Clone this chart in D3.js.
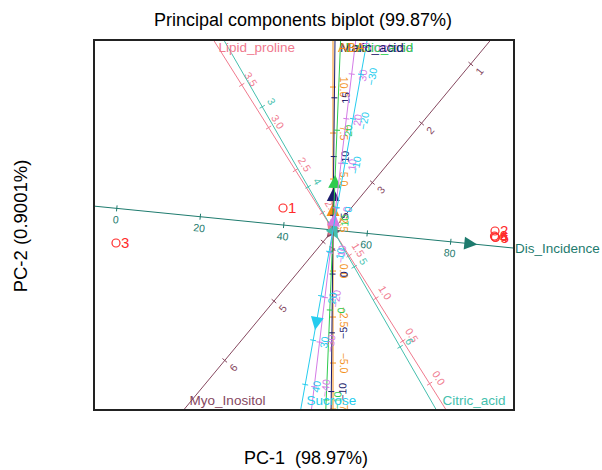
<!DOCTYPE html>
<html>
<head>
<meta charset="utf-8">
<script src="https://cdn.jsdelivr.net/npm/d3@7"></script>
<style>
  body { margin: 0; background: #fff; }
  svg { font-family: "Liberation Sans", Arial, sans-serif; }
</style>
</head>
<body>
<svg id="chart" width="602" height="470"></svg>
<script>
const width = 602;
const height = 470;
const frame = { left: 94, right: 514, top: 40, bottom: 410 };

// samples (PC scores)
const sampleIds = ["1", "2", "3", "4", "5", "6"];
const pc1 = [-1.0, 3.24, -4.34, 3.24, 3.25, 3.23];
const pc2 = [0.44, -0.02, -0.26, -0.14, -0.15, -0.12];

// calibrated variable axes
const varNames = ["Dis_Incidence", "Myo_Inositol", "Lipid_proline", "Citric_acid",
  "ABA", "Malic_acid", "Lactic_acid", "Fructose", "Sucrose"];
const varDirX = [0.995, -0.639, -0.532, 0.498, 0.0, 0.0105, 0.040, 0.119, -0.177];
const varDirY = [-0.0995, -0.770, 0.846, -0.867, 1.0, 1.0, 0.999, 0.993, -0.984];
const varCentre = [51.8, 3.8, 1.8, 4.54, 2.23, 3.75, 8.9, -4.9, 5.1];
const varUnit = [0.0839, 1.54, 2.018, 1.846, 0.368, 0.235, 0.18, 0.09, 0.09];
const varArrow = [2.9, 0.2, 0.22, 0.2, 0.54, 0.84, 1.1, 0.34, 2.03];
const varTicks = [
  [0, 20, 40, 60, 80],
  [1, 2, 3, 4, 5, 6],
  [0, 0.5, 1, 1.5, 2, 2.5, 3, 3.5],
  [3, 4, 5, 6],
  [-7.5, -5, -2.5, 0, 2.5, 5, 7.5, 10],
  [-10, -5, 0, 5, 10, 15],
  [-10, 0, 10, 20],
  [-40, -30, -20, -10, 0, 10, 20, 30],
  [-30, -20, -10, 0, 10, 20, 30, 40]
];

// styles
const varColor = ["#1e7b6e", "#86485f", "#f07a8e", "#45bfae", "#f39019",
  "#1b1b6b", "#2dcb4e", "#d47be6", "#25ccee"];
const labelSide = [1, -1, 1, -1, 1, 1, 1, 1, -1];
const tickFmt = [d3.format("d"), d3.format("d"), d3.format(".1f"), d3.format("d"),
  d3.format(".1f"), d3.format("d"), d3.format("d"), d3.format("d"), d3.format("d")];

const x = d3.scaleLinear().domain([-4.78, 3.62]).range([frame.left, frame.right]);
const y = d3.scaleLinear().domain([-3.6, 3.8]).range([frame.bottom, frame.top]);

const svg = d3.select("#chart");

svg.append("defs").append("clipPath").attr("id", "clip")
  .append("rect")
  .attr("x", frame.left).attr("y", frame.top)
  .attr("width", frame.right - frame.left).attr("height", frame.bottom - frame.top);

// titles
svg.append("text")
  .attr("x", 303).attr("y", 26)
  .attr("text-anchor", "middle")
  .style("font-size", "18px")
  .text("Principal components biplot (99.87%)");

svg.append("text")
  .attr("x", 306).attr("y", 464)
  .attr("text-anchor", "middle")
  .style("font-size", "18px")
  .style("white-space", "pre")
  .text("PC-1  (98.97%)");

svg.append("text")
  .attr("transform", "rotate(-90)")
  .attr("x", -226).attr("y", 27)
  .attr("text-anchor", "middle")
  .style("font-size", "18.5px")
  .text("PC-2 (0.9001%)");

const plot = svg.append("g").attr("clip-path", "url(#clip)");
const names = [];

varNames.forEach((name, i) => {
  const dx = varDirX[i], dy = varDirY[i];
  const col = varColor[i];
  const at = t => [x(t * dx), y(t * dy)];

  // screen unit direction (towards increasing values)
  const [ox, oy] = at(0);
  const [ex, ey] = at(1);
  const len = Math.hypot(ex - ox, ey - oy);
  const ux = (ex - ox) / len, uy = (ey - oy) / len;
  const nx = -uy * labelSide[i], ny = ux * labelSide[i];

  const p0 = at(-12), p1 = at(12);
  plot.append("line")
    .attr("x1", p0[0]).attr("y1", p0[1])
    .attr("x2", p1[0]).attr("y2", p1[1])
    .attr("stroke", col).attr("stroke-width", 1);

  // tick labels rotated along the axis, kept readable
  let ang = Math.atan2(uy, ux) * 180 / Math.PI;
  if (ang > 90) ang -= 180;
  if (ang <= -90) ang += 180;

  varTicks[i].forEach(v => {
    const t = (v - varCentre[i]) * varUnit[i];
    const [tx, ty] = at(t);
    plot.append("line")
      .attr("x1", tx - nx * 3).attr("y1", ty - ny * 3)
      .attr("x2", tx + nx * 3).attr("y2", ty + ny * 3)
      .attr("stroke", col).attr("stroke-width", 1);
    const lx = tx + nx * 11, ly = ty + ny * 11;
    plot.append("text")
      .attr("transform", `translate(${lx},${ly}) rotate(${ang})`)
      .attr("text-anchor", "middle")
      .attr("dominant-baseline", "central")
      .style("font-size", "10.5px")
      .attr("fill", col)
      .text(tickFmt[i](v));
  });

  // arrow head (loading)
  const [ax, ay] = at(varArrow[i]);
  const bx = ax - ux * 13, by = ay - uy * 13;
  const px = -uy * 6.5, py = ux * 6.5;
  plot.append("path")
    .attr("d", `M${ax},${ay}L${bx + px},${by + py}L${bx - px},${by - py}Z`)
    .attr("fill", col);

  // variable name where the axis leaves the frame
  const dom = x.domain(), domY = y.domain();
  const tX = dx > 0 ? dom[1] / dx : dx < 0 ? dom[0] / dx : Infinity;
  const tY = dy > 0 ? domY[1] / dy : dy < 0 ? domY[0] / dy : Infinity;
  const tEnd = Math.min(tX, tY);
  const [qx, qy] = at(tEnd);
  let tx2, ty2;
  if (tX < tY) { tx2 = frame.right + 1; ty2 = qy + 5; }
  else if (dy > 0) { tx2 = qx + 5; ty2 = frame.top + 12; }
  else { tx2 = qx + 6; ty2 = frame.bottom - 5; }
  names.push({ name, col, tx2, ty2 });
});

// names drawn last-first so the first label of a cluster stays on top
svg.append("g").selectAll("text")
  .data(names.slice().reverse())
  .join("text")
  .attr("x", d => d.tx2).attr("y", d => d.ty2)
  .style("font-size", "13.5px")
  .attr("fill", d => d.col)
  .text(d => d.name);

// sample points
sampleIds.forEach((id, i) => {
  plot.append("circle")
    .attr("cx", x(pc1[i])).attr("cy", y(pc2[i]))
    .attr("r", 4)
    .attr("fill", "none")
    .attr("stroke", "#ff2b2b")
    .attr("stroke-width", 1.2);
  plot.append("text")
    .attr("x", x(pc1[i]) + 5).attr("y", y(pc2[i]) + 5)
    .style("font-size", "15px")
    .attr("fill", "#ff2b2b")
    .text(id);
});

// frame
svg.append("rect")
  .attr("x", frame.left).attr("y", frame.top)
  .attr("width", frame.right - frame.left).attr("height", frame.bottom - frame.top)
  .attr("fill", "none")
  .attr("stroke", "#222")
  .attr("stroke-width", 2);
</script>
</body>
</html>
